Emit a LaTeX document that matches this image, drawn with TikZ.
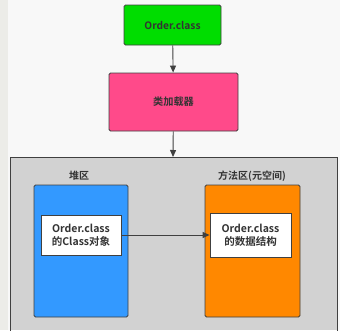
\documentclass[tikz,border=0pt]{standalone}
\usepackage{fontspec}
\setmainfont{Noto Sans CJK SC}[BoldFont={Noto Sans CJK SC Bold}]
\usetikzlibrary{arrows.meta}
\definecolor{bgc}{HTML}{F8F8F8}
\definecolor{stripc}{HTML}{ECECE8}
\definecolor{greenc}{HTML}{00DD00}
\definecolor{pinkc}{HTML}{FF4A8A}
\definecolor{grayc}{HTML}{D2D2D2}
\definecolor{bluec}{HTML}{3399FF}
\definecolor{orangec}{HTML}{FF8800}
\definecolor{linec}{HTML}{404040}
\definecolor{txtc}{HTML}{333333}
\tikzset{
  box/.style={draw=linec, line width=0.9pt, rounded corners=1.5pt, inner sep=0pt, font=\bfseries\fontsize{10.2}{12}\selectfont, text=txtc},
  inner/.style={draw=linec, line width=0.8pt, fill=white, inner sep=0pt, align=center, font=\bfseries\fontsize{10.5}{13}\selectfont, text=txtc},
  arr/.style={draw=linec, line width=0.9pt, -{Triangle[length=7pt,width=6pt]}},
  lbl/.style={font=\bfseries\fontsize{10}{12}\selectfont, text=txtc}
}
\begin{document}
\begin{tikzpicture}[x=1pt,y=-1pt]
\useasboundingbox (0,0) rectangle (340,330);
\fill[bgc] (0,0) rectangle (340,330);
\fill[stripc] (0,0) rectangle (8,330);
% container
\fill[grayc] (10,157) rectangle (337,330);
\draw[linec, line width=0.9pt] (10,331) -- (10,157) -- (337,157) -- (337,331);
\coordinate (ctop) at (173,157);
% top boxes
\node[box, fill=greenc, minimum width=97pt, minimum height=40pt] (ord) at (172.5,25) {Order.class};
\node[box, fill=pinkc, minimum width=129pt, minimum height=58pt] (cl) at (173.5,102) {类加载器};
\draw[arr] (ord) -- (cl);
\draw[arr] (cl) -- (ctop);
% labels
\node[lbl] (heaplbl) at (79,176) {堆区};
\node[lbl] (methlbl) at (252,176) {方法区(元空间)};
% areas
\node[box, fill=bluec, minimum width=94pt, minimum height=132pt] (heap) at (81,251) {};
\node[box, fill=orangec, minimum width=95pt, minimum height=132pt] (meth) at (252.5,251) {};
\node[inner, minimum width=80pt, minimum height=40pt] (obj) at (81,235) {Order.class\\的Class对象};
\node[inner, minimum width=81pt, minimum height=44pt] (ds) at (250.5,235) {Order.class\\的数据结构};
\draw[arr] (obj) -- (ds);
\end{tikzpicture}
\end{document}
